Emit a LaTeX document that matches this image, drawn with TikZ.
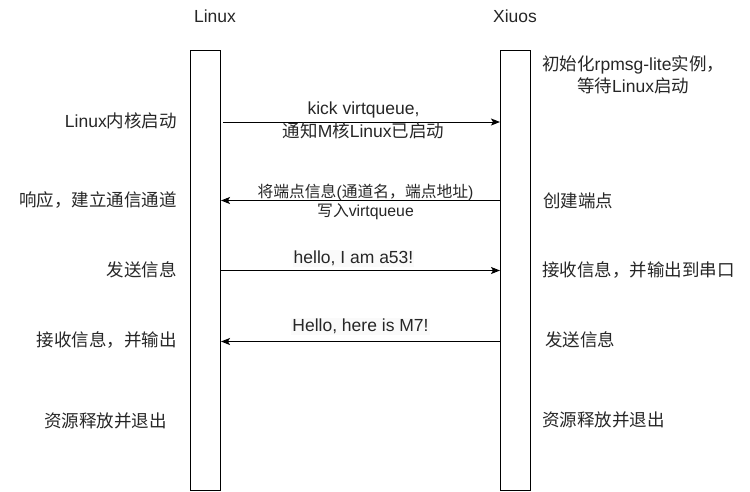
\documentclass[tikz,border=0pt]{standalone}
\usepackage{fontspec}
\setmainfont{Liberation Sans}
\newfontfamily\cj{Noto Sans CJK SC}
\usetikzlibrary{arrows.meta,calc}
\tikzset{
  lifeline/.style={draw=black, line width=1pt, minimum width=30pt, minimum height=440pt, inner sep=0pt, anchor=north west},
  msg/.style={draw=black, line width=1pt, -{Stealth[length=9pt,width=7pt,inset=2pt]}},
  lbl/.style={inner sep=0pt, text=black!85, font=\fontsize{17.5}{22}\selectfont},
  albl/.style={inner sep=1pt, text=black!85, align=center, font=\fontsize{17.5}{23}\selectfont},
  sml/.style={inner sep=1pt, text=black!85, align=center, font=\fontsize{15.8}{19}\selectfont},
}
\begin{document}
\begin{tikzpicture}[x=1pt,y=-1pt]
\useasboundingbox (0,0) rectangle (750,491);
% titles
\node[lbl] (lt) at (215,16) {Linux};
\node[lbl] (xt) at (515,16) {Xiuos};
% lifelines
\node[lifeline] (L) at (190,50) {};
\node[lifeline] (R) at (500,50) {};
% messages
\draw[msg] ([yshift=-72pt,xshift=2pt]L.north east) coordinate (a1s) -- ([yshift=-72pt]R.north west) coordinate (a1e);
\node[albl] (m1) at ($(a1s)!0.5!(a1e)+(2,-2)$) {kick virtqueue,\\{\cj 通知}M{\cj 核}Linux{\cj 已启动}};
\draw[msg] ([yshift=-150.5pt]R.north west) coordinate (a2s) -- ([yshift=-150.5pt]L.north east) coordinate (a2e);
\node[sml] (m2) at ($(a2s)!0.5!(a2e)+(5,1)$) {{\cj 将端点信息}({\cj 通道名，端点地址})\\{\cj 写入}virtqueue};
\draw[msg] ([yshift=-220.5pt]L.north east) coordinate (a3s) -- ([yshift=-220.5pt]R.north west) coordinate (a3e);
\node[albl, fill=black!2] (m3) at ($(a3s)!0.5!(a3e)+(-7,-12)$) {hello, I am a53!};
\draw[msg] ([yshift=-291.5pt]R.north west) coordinate (a4s) -- ([yshift=-291.5pt]L.north east) coordinate (a4e);
\node[albl, fill=black!2] (m4) at ($(a4s)!0.5!(a4e)+(0,-15)$) {Hello, here is M7!};
% left side labels
\node[lbl, anchor=east] (l1) at (177,121) {Linux{\cj 内核启动}};
\node[lbl, anchor=east] (l2) at (177,200) {\cj 响应，建立通信通道};
\node[lbl, anchor=east] (l3) at (177,270) {\cj 发送信息};
\node[lbl, anchor=east] (l4) at (177,340) {\cj 接收信息，并输出};
\node[lbl, anchor=east] (l5) at (167,421) {\cj 资源释放并退出};
% right side labels
\node[lbl, anchor=west, align=center, font=\fontsize{17.5}{22}\selectfont] (r1) at (542,75) {{\cj 初始化}rpmsg-lite{\cj 实例，}\\{\cj 等待}Linux{\cj 启动}};
\node[lbl, anchor=west] (r2) at (543,201) {\cj 创建端点};
\node[lbl, anchor=west] (r3) at (542,270) {\cj 接收信息，并输出到串口};
\node[lbl, anchor=west] (r4) at (545,340) {\cj 发送信息};
\node[lbl, anchor=west] (r5) at (542,420) {\cj 资源释放并退出};
\end{tikzpicture}
\end{document}
